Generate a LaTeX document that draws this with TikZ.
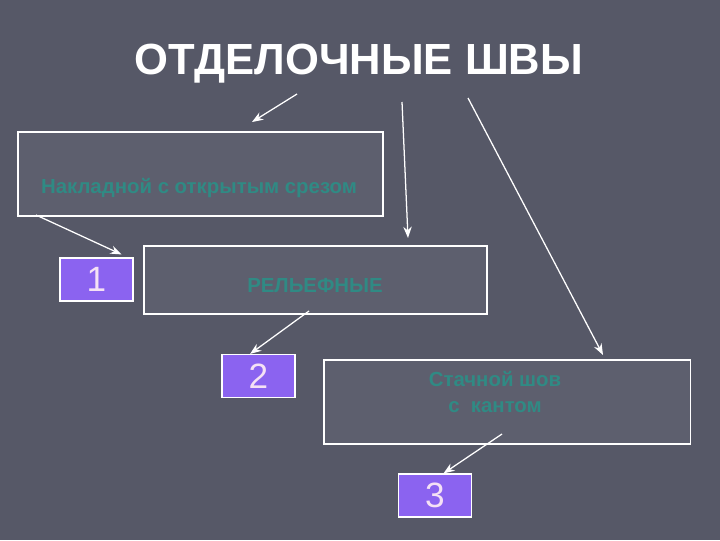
\documentclass[tikz,border=0pt]{standalone}
\usepackage{fontspec}
\setmainfont{Liberation Sans}
\usetikzlibrary{positioning,arrows.meta}
\definecolor{slideBg}{RGB}{86,88,103}
\definecolor{boxBg}{RGB}{93,95,110}
\definecolor{seamTeal}{RGB}{48,138,132}
\definecolor{numViolet}{RGB}{139,99,240}
\definecolor{numText}{RGB}{245,225,245}

\begin{document}
\begin{tikzpicture}[x=0.025cm,y=-0.025cm,
    seambox/.style={draw=white, line width=0.8pt, fill=boxBg, inner sep=0pt},
    seamtext/.style={text=seamTeal, font=\bfseries\fontsize{14.5}{19}\selectfont, align=center},
    numbox/.style={draw=white, line width=0.8pt, fill=numViolet, minimum width=1.825cm, minimum height=1.075cm,
                   text=numText, font=\fontsize{25}{28}\selectfont, inner sep=0pt},
    arr/.style={-{Stealth[length=8pt,width=6pt]}, white, line width=0.9pt},
]
\fill[slideBg] (0,0) rectangle (720,540);
\useasboundingbox (0,0) rectangle (720,540);

\node[text=white, font=\bfseries\fontsize{31}{36}\selectfont] (title) at (359,64) {ОТДЕЛОЧНЫЕ ШВЫ};

% boxes
\node[seambox, minimum width=9.125cm, minimum height=2.1cm] (bA) at (200.5,174) {};
\node[seamtext] (tA) at (199,188) {Накладной с открытым срезом};
\node[seambox, minimum width=8.575cm, minimum height=1.7cm] (bB) at (315.5,280) {};
\node[seamtext] (tB) at (315,286) {РЕЛЬЕФНЫЕ};
\node[seambox, minimum width=9.15cm, minimum height=2.1cm] (bC) at (507,402) {};
\node[seamtext] (tC) at (495,392) {Стачной шов\\с\ \ кантом};

\node[numbox] (n1) at (96.5,279.5) {1};
\node[numbox] (n2) at (258.5,376) {2};
\node[numbox] (n3) at (435,495.5) {3};

% arrow ends
\coordinate (sA) at (297,94);
\coordinate (eA) at (252,122);
\coordinate (sB) at (402,102);
\coordinate (eB) at (408,238);
\coordinate (sC) at (468,98);
\coordinate (eC) at (603,355);
\coordinate (s1) at (36,215);
\coordinate (s2) at (309,311);
\coordinate (s3) at (502,434);

\draw[arr] (sA) -- (eA);
\draw[arr] (sB) -- (eB);
\draw[arr] (sC) -- (eC);
\draw[arr] (s1) -- ([shift={(-12,-3)}]n1.north east);
\draw[arr] (s2) -- ([xshift=-6pt]n2.north);
\draw[arr] (s3) -- ([xshift=6pt]n3.north);
\end{tikzpicture}
\end{document}
